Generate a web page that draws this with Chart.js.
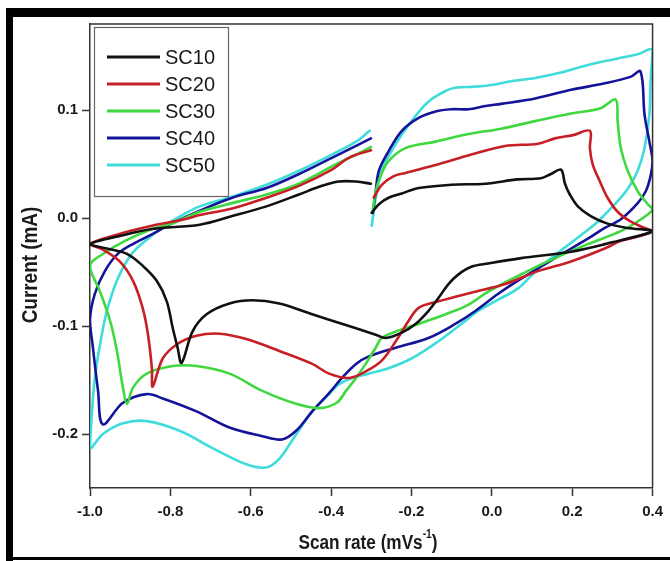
<!DOCTYPE html>
<html>
<head>
<meta charset="utf-8">
<script src="https://cdn.jsdelivr.net/npm/chart.js@4.4.1/dist/chart.umd.min.js"></script>
<style>
  html, body { margin: 0; padding: 0; background: #fff; }
  canvas { display: block; }
</style>
</head>
<body>
<canvas id="cvChart" width="670" height="561"></canvas>
<script>
// axis ticks
const xTicks = [-1.0, -0.8, -0.6, -0.4, -0.2, 0.0, 0.2, 0.4];
const yTicks = [-0.2, -0.1, 0.0, 0.1];

const seriesNames = ['SC10', 'SC20', 'SC30', 'SC40', 'SC50'];
const seriesColors = ['#111111', '#c62026', '#3fd83f', '#14149a', '#40dcdc'];

// each loop: upper branch from -0.3 to 0.4, reverse branch back to -1.0, then up to -0.3
const sc10 = [
    [-0.299, 0.005], [-0.281, 0.013], [-0.257, 0.019], [-0.224, 0.023], [-0.182, 0.028], [-0.101, 0.031],
    [-0.016, 0.032], [0.065, 0.036], [0.122, 0.037], [0.147, 0.041], [0.172, 0.045], [0.182, 0.032],
    [0.194, 0.022], [0.214, 0.011], [0.246, 0.002], [0.288, -0.005], [0.338, -0.009], [0.400, -0.012],
    [0.281, -0.024], [0.197, -0.031], [0.073, -0.037], [-0.009, -0.042], [-0.051, -0.045], [-0.083, -0.052],
    [-0.108, -0.061], [-0.133, -0.074], [-0.158, -0.086], [-0.190, -0.098], [-0.224, -0.106], [-0.264, -0.111],
    [-0.289, -0.108], [-0.338, -0.102], [-0.405, -0.094], [-0.447, -0.089], [-0.529, -0.079], [-0.596, -0.076],
    [-0.653, -0.079], [-0.710, -0.089], [-0.745, -0.105], [-0.772, -0.134], [-0.782, -0.120], [-0.794, -0.102],
    [-0.809, -0.077], [-0.834, -0.058], [-0.869, -0.044], [-0.908, -0.033], [-0.958, -0.028], [-1.0, -0.024],
    [-0.931, -0.017], [-0.846, -0.010], [-0.727, -0.006], [-0.646, 0.002], [-0.561, 0.011], [-0.480, 0.022],
    [-0.423, 0.030], [-0.381, 0.034], [-0.338, 0.034], [-0.301, 0.032]
];

const sc20 = [
    [-0.294, 0.019], [-0.274, 0.031], [-0.244, 0.039], [-0.215, 0.042], [-0.133, 0.050], [-0.051, 0.059],
    [0.033, 0.067], [0.115, 0.069], [0.157, 0.074], [0.202, 0.077], [0.244, 0.081], [0.244, 0.065],
    [0.251, 0.050], [0.269, 0.034], [0.288, 0.019], [0.313, 0.006], [0.345, -0.003], [0.380, -0.009],
    [0.400, -0.012],
    [0.363, -0.017], [0.321, -0.021], [0.281, -0.028], [0.197, -0.040], [0.115, -0.049], [0.033, -0.061],
    [-0.051, -0.069], [-0.133, -0.077], [-0.182, -0.083], [-0.207, -0.095], [-0.239, -0.114], [-0.274, -0.132],
    [-0.314, -0.142], [-0.356, -0.148], [-0.405, -0.144], [-0.447, -0.135], [-0.529, -0.123], [-0.611, -0.112],
    [-0.678, -0.107], [-0.735, -0.109], [-0.784, -0.117], [-0.819, -0.130], [-0.844, -0.156], [-0.846, -0.139],
    [-0.856, -0.107], [-0.869, -0.083], [-0.893, -0.058], [-0.926, -0.040], [-0.968, -0.029], [-1.0, -0.024],
    [-0.931, -0.015], [-0.846, -0.007], [-0.765, -0.001], [-0.727, 0.003], [-0.646, 0.009], [-0.561, 0.019],
    [-0.480, 0.030], [-0.398, 0.045], [-0.356, 0.056], [-0.301, 0.063]
];

const sc30 = [
    [-0.296, 0.008], [-0.289, 0.025], [-0.277, 0.039], [-0.257, 0.053], [-0.215, 0.065], [-0.140, 0.071],
    [-0.058, 0.078], [0.023, 0.083], [0.108, 0.090], [0.197, 0.097], [0.271, 0.102], [0.308, 0.110],
    [0.313, 0.090], [0.321, 0.065], [0.338, 0.044], [0.363, 0.025], [0.388, 0.013], [0.400, 0.008],
    [0.363, -0.003], [0.321, -0.012], [0.239, -0.024], [0.157, -0.037], [0.073, -0.052], [-0.009, -0.068],
    [-0.058, -0.080], [-0.115, -0.089], [-0.175, -0.097], [-0.239, -0.105], [-0.274, -0.111], [-0.289, -0.120],
    [-0.314, -0.135], [-0.338, -0.148], [-0.363, -0.160], [-0.386, -0.171], [-0.430, -0.176], [-0.487, -0.172],
    [-0.571, -0.160], [-0.653, -0.144], [-0.735, -0.137], [-0.794, -0.137], [-0.859, -0.144], [-0.893, -0.157],
    [-0.908, -0.172], [-0.918, -0.157], [-0.933, -0.123], [-0.950, -0.095], [-0.975, -0.068], [-1.0, -0.044],
    [-0.963, -0.032], [-0.913, -0.021], [-0.846, -0.010], [-0.797, -0.005], [-0.727, 0.006], [-0.646, 0.014],
    [-0.561, 0.022], [-0.480, 0.032], [-0.398, 0.048], [-0.338, 0.059], [-0.301, 0.066]
];

const sc40 = [
    [-0.296, 0.005], [-0.289, 0.025], [-0.281, 0.044], [-0.257, 0.062], [-0.224, 0.081], [-0.182, 0.093],
    [-0.140, 0.099], [-0.101, 0.101], [-0.058, 0.101], [-0.016, 0.104], [0.023, 0.106], [0.108, 0.111],
    [0.197, 0.119], [0.281, 0.125], [0.345, 0.131], [0.370, 0.136], [0.380, 0.096], [0.392, 0.071],
    [0.400, 0.053],
    [0.395, 0.039], [0.383, 0.025], [0.363, 0.014], [0.321, -0.001], [0.281, -0.009], [0.239, -0.019],
    [0.157, -0.037], [0.073, -0.056], [0.016, -0.070], [-0.041, -0.086], [-0.091, -0.098], [-0.158, -0.111],
    [-0.239, -0.120], [-0.306, -0.128], [-0.338, -0.135], [-0.373, -0.148], [-0.405, -0.162], [-0.447, -0.179],
    [-0.487, -0.197], [-0.522, -0.205], [-0.571, -0.202], [-0.653, -0.194], [-0.735, -0.179], [-0.819, -0.167],
    [-0.859, -0.163], [-0.918, -0.171], [-0.968, -0.191], [-0.980, -0.160], [-0.993, -0.119], [-1.0, -0.094],
    [-0.988, -0.070], [-0.963, -0.049], [-0.931, -0.033], [-0.889, -0.023], [-0.846, -0.015], [-0.797, -0.005],
    [-0.727, 0.007], [-0.646, 0.019], [-0.561, 0.028], [-0.480, 0.041], [-0.398, 0.056], [-0.338, 0.067],
    [-0.301, 0.074]
];

const sc50 = [
    [-0.299, -0.007], [-0.294, 0.006], [-0.289, 0.019], [-0.274, 0.044], [-0.239, 0.069], [-0.200, 0.090],
    [-0.158, 0.108], [-0.115, 0.118], [-0.091, 0.121], [-0.041, 0.122], [0.008, 0.124], [0.048, 0.127],
    [0.108, 0.130], [0.172, 0.135], [0.239, 0.142], [0.313, 0.148], [0.363, 0.152], [0.400, 0.156],
    [0.395, 0.127], [0.392, 0.096], [0.380, 0.065], [0.363, 0.044], [0.338, 0.027], [0.306, 0.013],
    [0.264, -0.003], [0.221, -0.016], [0.182, -0.027], [0.115, -0.047], [0.065, -0.065], [0.008, -0.077],
    [-0.034, -0.086], [-0.076, -0.098], [-0.133, -0.114], [-0.200, -0.130], [-0.257, -0.139], [-0.306, -0.144],
    [-0.348, -0.148], [-0.381, -0.154], [-0.405, -0.163], [-0.447, -0.179], [-0.497, -0.206], [-0.529, -0.223],
    [-0.561, -0.231], [-0.611, -0.228], [-0.695, -0.213], [-0.777, -0.197], [-0.859, -0.188], [-0.918, -0.190],
    [-0.968, -0.200], [-1.0, -0.213],
    [-0.995, -0.179], [-0.988, -0.148], [-0.975, -0.117], [-0.958, -0.086], [-0.931, -0.056], [-0.896, -0.033],
    [-0.856, -0.019], [-0.814, -0.007], [-0.765, 0.004], [-0.727, 0.011], [-0.646, 0.020], [-0.561, 0.031],
    [-0.480, 0.044], [-0.398, 0.059], [-0.338, 0.071], [-0.304, 0.081]
];

const seriesData = [sc10, sc20, sc30, sc40, sc50];

const FONT = '"Liberation Sans", Arial, sans-serif';

// black frame, plot box, legend and axis titles
const framePlugin = {
    id: 'frame',
    beforeDraw(chart) {
        const c = chart.ctx;
        c.save();
        c.fillStyle = '#fff';
        c.fillRect(0, 0, chart.width, chart.height);
        c.fillStyle = '#000';
        c.fillRect(6, 8, 664, 9);
        c.fillRect(6, 8, 7, 553);
        c.fillRect(6, 557, 664, 3);
        c.restore();
    },
    afterDraw(chart) {
        const c = chart.ctx;
        const a = chart.chartArea;
        c.save();
        c.strokeStyle = '#333';
        c.lineWidth = 1.5;
        c.beginPath();
        c.moveTo(a.left, a.top);
        c.lineTo(a.right, a.top);
        c.lineTo(a.right, a.bottom);
        c.stroke();

        // legend box
        c.strokeStyle = '#666';
        c.lineWidth = 1.2;
        c.strokeRect(94.5, 27.5, 134, 169);
        chart.data.datasets.forEach((ds, i) => {
            const y = 57 + i * 27;
            c.strokeStyle = ds.borderColor;
            c.lineWidth = 3;
            c.beginPath();
            c.moveTo(107, y);
            c.lineTo(160, y);
            c.stroke();
            c.fillStyle = '#1a1a1a';
            c.font = '20px ' + FONT;
            c.textBaseline = 'middle';
            c.textAlign = 'left';
            c.fillText(ds.label, 165, y + 1);
        });

        // axis titles
        c.fillStyle = '#1a1a1a';
        c.textBaseline = 'middle';
        c.save();
        c.translate(31, 265);
        c.rotate(-Math.PI / 2);
        c.scale(0.86, 1);
        c.font = 'bold 22px ' + FONT;
        c.textAlign = 'center';
        c.fillText('Current (mA)', 0, 0);
        c.restore();

        c.save();
        c.translate(368, 543);
        c.scale(0.86, 1);
        c.textAlign = 'left';
        const main = 'Scan rate (mVs', sup = '-1', end = ')';
        c.font = 'bold 20px ' + FONT;
        const wMain = c.measureText(main).width;
        const wEnd = c.measureText(end).width;
        c.font = 'bold 12px ' + FONT;
        const wSup = c.measureText(sup).width;
        let x0 = -(wMain + wSup + wEnd) / 2;
        c.font = 'bold 20px ' + FONT;
        c.fillText(main, x0, 0);
        x0 += wMain;
        c.font = 'bold 12px ' + FONT;
        c.fillText(sup, x0, -8);
        x0 += wSup;
        c.font = 'bold 20px ' + FONT;
        c.fillText(end, x0, 0);
        c.restore();
        c.restore();
    }
};

const ctx = document.getElementById('cvChart').getContext('2d');

new Chart(ctx, {
    type: 'scatter',
    data: {
        datasets: seriesNames.map((name, i) => ({
            label: name,
            data: seriesData[i].map(p => ({ x: p[0], y: p[1] })),
            borderColor: seriesColors[i],
            backgroundColor: seriesColors[i],
            showLine: true,
            fill: false
        }))
    },
    options: {
        responsive: false,
        animation: false,
        layout: { padding: { left: 0, top: 24, right: 15, bottom: 0 } },
        elements: {
            point: { radius: 0 },
            line: { borderWidth: 2.6, tension: 0.35, borderCapStyle: 'round', borderJoinStyle: 'round' }
        },
        plugins: {
            legend: { display: false },
            tooltip: { enabled: false }
        },
        scales: {
            x: {
                type: 'linear',
                min: -1.0,
                max: 0.4,
                afterFit: s => { s.height = 73; },
                afterBuildTicks: s => { s.ticks = xTicks.map(v => ({ value: v })); },
                grid: { drawOnChartArea: false, drawTicks: true, tickLength: 8, tickColor: '#333', tickWidth: 1.5 },
                border: { display: true, color: '#333', width: 1.5 },
                ticks: {
                    padding: 7,
                    color: '#1a1a1a',
                    font: { family: FONT, size: 15, weight: 'bold' },
                    callback: v => Math.abs(v) < 1e-9 ? '0.0' : Number(v).toFixed(1)
                }
            },
            y: {
                type: 'linear',
                min: -0.25,
                max: 0.18,
                afterFit: s => { s.width = 90; },
                afterBuildTicks: s => { s.ticks = yTicks.map(v => ({ value: v })); },
                grid: { drawOnChartArea: false, drawTicks: true, tickLength: 8, tickColor: '#333', tickWidth: 1.5 },
                border: { display: true, color: '#333', width: 1.5 },
                ticks: {
                    padding: 4,
                    color: '#1a1a1a',
                    font: { family: FONT, size: 15, weight: 'bold' },
                    callback: v => Math.abs(v) < 1e-9 ? '0.0' : Number(v).toFixed(1)
                }
            }
        }
    },
    plugins: [framePlugin]
});
</script>
</body>
</html>
